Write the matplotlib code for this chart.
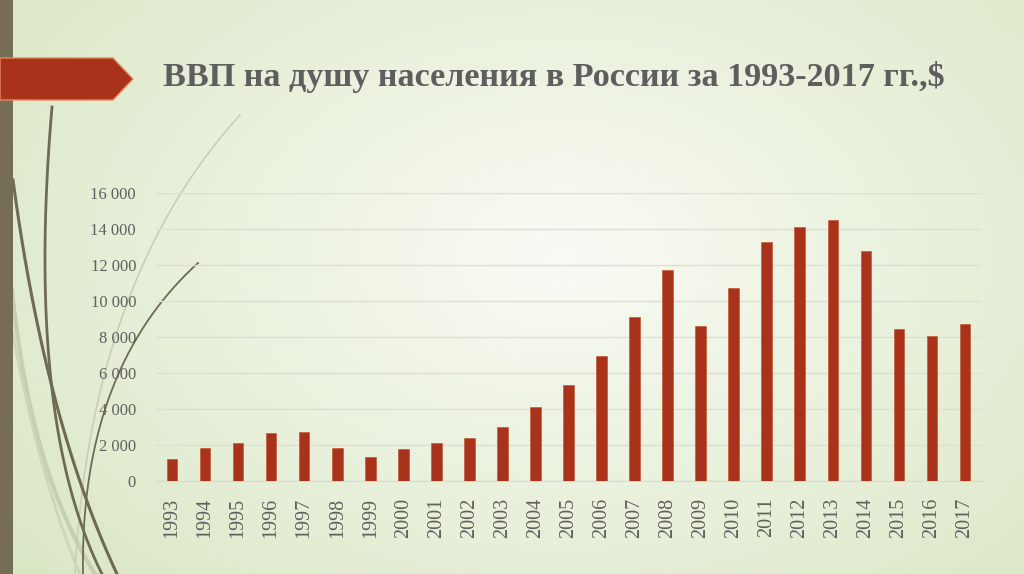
import matplotlib.pyplot as plt
import numpy as np
from matplotlib.patches import Polygon, Rectangle

years = [str(y) for y in range(1993, 2018)]
gdp_per_capita = [
    1200, 1850, 2100, 2650, 2750, 1850, 1330, 1800, 2100, 2380,
    2980, 4100, 5320, 6920, 9100, 11700, 8600, 10700, 13300, 14100,
    14500, 12750, 8450, 8050, 8750,
]
y_ticks = list(range(0, 16001, 2000))
y_tick_labels = ["0" if v == 0 else f"{v // 1000} 000" for v in y_ticks]
title = "ВВП на душу населения в России за 1993-2017 гг.,$"

W, H = 1024, 574
fig = plt.figure(figsize=(W / 100, H / 100), dpi=100)


def px(x, y):
    # pixel coords (top-left origin) -> figure fraction
    return x / W, 1 - y / H


# background gradient
bg = fig.add_axes([0, 0, 1, 1], zorder=-10)
gx, gy = np.meshgrid(np.linspace(0, 1, 300), np.linspace(0, 1, 200))
d = np.sqrt(((gx - 0.55) / 0.7) ** 2 + ((gy - 0.45) / 0.85) ** 2)
d = np.clip(d, 0, 1)
light = np.array([0.975, 0.985, 0.960])
green = np.array([0.855, 0.905, 0.770])
img = light[None, None, :] * (1 - d[..., None]) + green[None, None, :] * d[..., None]
bg.imshow(img, extent=[0, 1, 0, 1], aspect="auto", origin="upper")
bg.set_xlim(0, 1)
bg.set_ylim(0, 1)
bg.axis("off")


def bezier(p0, p1, p2, n=100):
    t = np.linspace(0, 1, n)[:, None]
    p0, p1, p2 = map(np.array, (p0, p1, p2))
    pts = (1 - t) ** 2 * p0 + 2 * (1 - t) * t * p1 + t ** 2 * p2
    return pts[:, 0] / W, 1 - pts[:, 1] / H


# decorative curves on the left
curves = [
    ((240, 115), (90, 280), (75, 574), "#c9ceb8", 1.2),
    ((12, 290), (30, 470), (95, 574), "#c6d0b0", 3.0),
    ((12, 330), (40, 480), (80, 574), "#cdd6b8", 2.0),
    ((13, 180), (45, 420), (117, 574), "#6f6a52", 2.2),
    ((52, 107), (25, 420), (102, 574), "#6f6a52", 2.0),
    ((198, 263), (80, 370), (83, 574), "#6f6a52", 1.3),
]
for p0, p1, p2, c, lw in curves:
    xs, ys = bezier(p0, p1, p2)
    bg.plot(xs, ys, color=c, lw=lw, transform=fig.transFigure, zorder=1)

# left vertical bar
fig.patches.append(Rectangle(px(0, 574), 13 / W, 1, transform=fig.transFigure,
                             facecolor="#756d56", edgecolor="none", zorder=2))
# red arrow
arrow_pts = [px(0, 58), px(113, 58), px(133, 79), px(113, 100), px(0, 100)]
fig.patches.append(Polygon(arrow_pts, closed=True, transform=fig.transFigure,
                           facecolor="#a8321a", edgecolor="#e58a5e", lw=1.0, zorder=3))

fig.text(*px(163, 77), title, fontfamily="Liberation Serif", fontweight="bold",
         fontsize=24.6, color="#5e5e5e", va="center", ha="left")

# chart
left, bottom = px(155.5, 481)
_, top = px(0, 193)
ax = fig.add_axes([left, bottom, 826 / W, top - bottom])
ax.set_facecolor("none")
x = np.arange(len(years))
ax.bar(x, gdp_per_capita, width=0.32, color="#a8321a", edgecolor="#c45a3a",
       linewidth=0.5, zorder=3)
ax.set_xlim(-0.5, len(years) - 0.5)
ax.set_ylim(0, 16000)
ax.set_yticks(y_ticks)
ax.set_yticklabels(y_tick_labels)
ax.set_xticks(x)
ax.set_xticklabels(years, rotation=90)
ax.grid(axis="y", color="#dcdfd6", lw=1, zorder=0)
for s in ["top", "right", "left"]:
    ax.spines[s].set_visible(False)
ax.spines["bottom"].set_color("#d6d9cf")
ax.tick_params(length=0, colors="#606060")
ax.tick_params(axis="y", pad=14, labelsize=12)
ax.tick_params(axis="x", pad=12, labelsize=14.5)
for lab in ax.get_xticklabels() + ax.get_yticklabels():
    lab.set_fontfamily("Liberation Serif")

fig.savefig("out.png", dpi=100)
